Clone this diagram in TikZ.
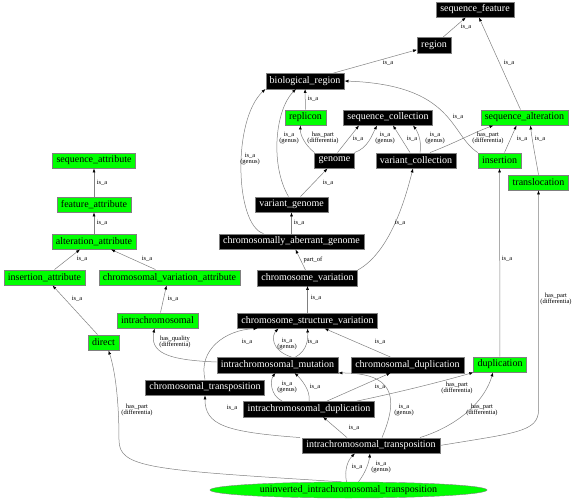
\documentclass[tikz,border=0pt]{standalone}
\usepackage{fontspec}
\setmainfont{Liberation Serif}
\usetikzlibrary{arrows.meta,shapes.geometric}
\tikzset{
  box/.style={draw=gray, inner xsep=4pt, inner ysep=0pt, minimum height=15.5pt, font=\fontsize{10}{12}\selectfont},
  blk/.style={box, fill=black, text=white},
  grn/.style={box, fill=green, text=black},
  grnell/.style={box, ellipse, fill=green, minimum width=277pt, minimum height=16pt, inner sep=0pt},
  link/.style={draw=gray, line width=0.5pt, -{Latex[length=4pt,width=3pt,color=black]}},
  lbl/.style={font=\fontsize{6.5}{6.5}\selectfont, align=center, inner sep=0pt},
}
\begin{document}
\begin{tikzpicture}[x=1pt, y=-1pt]
        \useasboundingbox (0,0) rectangle (576,500);

        % sequence ontology terms
        \node[blk] (seqfeat) at (475,9.5) {sequence\_feature};
        \node[blk] (region) at (434,45) {region};
        \node[blk] (bioreg) at (305,81) {biological\_region};
        \node[grn] (replicon) at (305.5,117.5) {replicon};
        \node[blk] (seqcoll) at (388,117.5) {sequence\_collection};
        \node[grn] (seqalt) at (524.5,117.5) {sequence\_alteration};
        \node[blk] (genome) at (334.5,160.5) {genome};
        \node[blk] (varcoll) at (416,160.5) {variant\_collection};
        \node[grn] (insertion) at (499.5,160.5) {insertion};
        \node[grn] (transloc) at (538.5,182.5) {translocation};
        \node[blk] (vargenome) at (291.5,204.5) {variant\_genome};
        \node[blk] (chrabgen) at (291.5,241.5) {chromosomally\_aberrant\_genome};
        \node[blk] (chrvar) at (307.5,278) {chromosome\_variation};
        \node[blk] (chrstrvar) at (307.5,320.5) {chromosome\_structure\_variation};
        \node[blk] (intramut) at (277.5,365) {intrachromosomal\_mutation};
        \node[blk] (chrdup) at (407.5,365) {chromosomal\_duplication};
        \node[grn] (dup) at (500,364.5) {duplication};
        \node[blk] (chrtransp) at (205,387.5) {chromosomal\_transposition};
        \node[blk] (intradup) at (309,409) {intrachromosomal\_duplication};
        \node[blk] (intratransp) at (371,445.5) {intrachromosomal\_transposition};
        \node[grnell] (uninv) at (348.5,490) {uninverted\_intrachromosomal\_transposition};

        % attributes
        \node[grn] (seqattr) at (94,160.5) {sequence\_attribute};
        \node[grn] (featattr) at (94,204.5) {feature\_attribute};
        \node[grn] (altattr) at (94,241.5) {alteration\_attribute};
        \node[grn] (insattr) at (44.5,277.5) {insertion\_attribute};
        \node[grn] (chrvarattr) at (169.5,277.5) {chromosomal\_variation\_attribute};
        \node[grn] (intrachr) at (157.5,320.5) {intrachromosomal};
        \node[grn] (direct) at (103.5,342.5) {direct};

        % upper links
        \draw[link] (region) -- (seqfeat) node[lbl] at (466,27) {is\_a};
        \draw[link] (bioreg) -- (region) node[lbl] at (388,63) {is\_a};
        \draw[link] ([xshift=-4pt]seqalt.north) -- ([xshift=4pt]seqfeat.south) node[lbl] at (509,63) {is\_a};
        \draw[link] (replicon) -- (bioreg) node[lbl] at (313,99) {is\_a};
        \draw[link] ([xshift=-3pt]vargenome.north) .. controls (270,165) and (275,110) .. ([xshift=-9pt]bioreg.south) node[lbl] at (289,138) {is\_a\\(genus)};
        \draw[link] ([xshift=-28pt]chrabgen.north) .. controls (235,225) and (232,120) .. (bioreg.south west) node[lbl] at (250,159) {is\_a\\(genus)};
        \draw[link] (genome.north west) .. controls (305,145) and (300,135) .. ([xshift=-5pt]replicon.south) node[lbl] at (323,138) {has\_part\\(differentia)};
        \draw[link] ([xshift=3pt]genome.north) -- ([xshift=-29pt]seqcoll.south) node[lbl] at (358,139) {is\_a};
        \draw[link] (genome.north east) .. controls (368,148) and (372,135) .. ([xshift=-11pt]seqcoll.south) node[lbl] at (385,138) {is\_a\\(genus)};
        \draw[link] ([xshift=-6pt]varcoll.north) -- ([xshift=5pt]seqcoll.south) node[lbl] at (412,139) {is\_a};
        \draw[link] ([xshift=4pt]varcoll.north) .. controls (422,142) and (418,132) .. ([xshift=25pt]seqcoll.south) node[lbl] at (435,138) {is\_a\\(genus)};
        \draw[link] ([xshift=14pt]varcoll.north) .. controls (455,143) and (475,132) .. ([xshift=-31pt]seqalt.south) node[lbl] at (488,138) {has\_part\\(differentia)};
        \draw[link] (insertion.north west) .. controls (450,135) and (455,85) .. (bioreg.east) node[lbl] at (458,117) {is\_a};
        \draw[link] ([xshift=5pt]insertion.north) -- ([xshift=-8pt]seqalt.south) node[lbl] at (522,139) {is\_a};
        \draw[link] (transloc.north) .. controls (536,160) and (532,140) .. ([xshift=6pt]seqalt.south) node[lbl] at (540,139) {is\_a};
        \draw[link] ([xshift=9pt]vargenome.north) -- ([xshift=-7pt]genome.south) node[lbl] at (328,183) {is\_a};
        \draw[link] (chrabgen) -- (vargenome) node[lbl] at (299,223) {is\_a};

        % attribute links
        \draw[link] (featattr) -- (seqattr) node[lbl] at (102,183) {is\_a};
        \draw[link] (altattr) -- (featattr) node[lbl] at (102,223) {is\_a};
        \draw[link] ([xshift=10pt]insattr.north) -- ([xshift=-14pt]altattr.south) node[lbl] at (82,259) {is\_a};
        \draw[link] ([xshift=-14pt]chrvarattr.north) -- ([xshift=17pt]altattr.south) node[lbl] at (147,259) {is\_a};
        \draw[link] ([xshift=3pt]intrachr.north) -- ([xshift=-3pt]chrvarattr.south) node[lbl] at (173,299) {is\_a};
        \draw[link] ([xshift=-6pt]direct.north) -- ([xshift=8pt]insattr.south) node[lbl] at (77,299) {is\_a};

        % chromosome variation links
        \draw[link] ([xshift=-2pt]chrvar.north) -- ([xshift=4pt]chrabgen.south) node[lbl] at (313,260) {part\_of};
        \draw[link] (chrvar.north east) .. controls (390,252) and (405,200) .. ([xshift=-3pt]varcoll.south) node[lbl] at (400,223) {is\_a};
        \draw[link] (chrstrvar) -- (chrvar) node[lbl] at (316,298) {is\_a};
        \draw[link] ([xshift=14pt]intramut.north) .. controls (270,350) and (272,335) .. ([xshift=-29pt]chrstrvar.south) node[lbl] at (287,344) {is\_a\\(genus)};
        \draw[link] ([xshift=18pt]intramut.north) .. controls (308,350) and (308,338) .. (chrstrvar.south) node[lbl] at (313,342) {is\_a};
        \draw[link] ([yshift=3pt]intramut.west) .. controls (165,360) and (150,352) .. ([xshift=-3pt]intrachr.south) node[lbl] at (175,342) {has\_quality\\(differentia)};
        \draw[link] ([xshift=-17pt]chrdup.north) -- ([xshift=17pt]chrstrvar.south) node[lbl] at (380,342) {is\_a};
        \draw[link] (chrtransp.north) .. controls (198,350) and (225,330) .. ([xshift=-50pt]chrstrvar.south) node[lbl] at (247,342) {is\_a};

        % duplication and transposition links
        \draw[link] ([xshift=-27pt]intradup.north) .. controls (270,395) and (270,380) .. ([xshift=-2pt]intramut.south) node[lbl] at (287,387) {is\_a\\(genus)};
        \draw[link] (intradup.north) .. controls (311,390) and (300,378) .. ([xshift=17pt]intramut.south) node[lbl] at (315,387) {is\_a};
        \draw[link] ([xshift=18pt]intradup.north) -- ([xshift=-17pt]chrdup.south) node[lbl] at (380,387) {is\_a};
        \draw[link] ([xshift=48pt]intradup.north) .. controls (400,392) and (440,382) .. (dup.south west) node[lbl] at (457,388) {has\_part\\(differentia)};
        \draw[link] (dup) -- (insertion) node[lbl] at (507,259) {is\_a};
        \draw[link] ([xshift=-2pt]intratransp.north west) .. controls (225,432) and (205,425) .. (chrtransp.south) node[lbl] at (232,408) {is\_a};
        \draw[link] ([xshift=-24pt]intratransp.north) -- ([xshift=14pt]intradup.south) node[lbl] at (354,428) {is\_a};
        \draw[link] ([xshift=11pt]intratransp.north) .. controls (400,395) and (392,373) .. (intramut.south east) node[lbl] at (404,410) {is\_a\\(genus)};
        \draw[link] ([xshift=49pt]intratransp.north) .. controls (460,425) and (485,400) .. ([xshift=-7pt]dup.south) node[lbl] at (482,410) {has\_part\\(differentia)};
        \draw[link] (intratransp.east) .. controls (515,433) and (538.5,432) .. (538.5,410) -- (transloc.south) node[lbl] at (556,299) {has\_part\\(differentia)};

        % uninverted links
        \draw[link] ([xshift=-2pt]uninv.north) .. controls (344,470) and (348,460) .. ([xshift=-16pt]intratransp.south) node[lbl] at (357,467) {is\_a};
        \draw[link] ([xshift=10pt]uninv.north) .. controls (366,472) and (369,462) .. ([xshift=-1pt]intratransp.south) node[lbl] at (381,467) {is\_a\\(genus)};
        \draw[link] (uninv.130) .. controls (150,470) and (119,468) .. (119,440) .. controls (119,400) and (115,370) .. ([xshift=5pt]direct.south) node[lbl] at (137,410) {has\_part\\(differentia)};
    \end{tikzpicture}
\end{document}
